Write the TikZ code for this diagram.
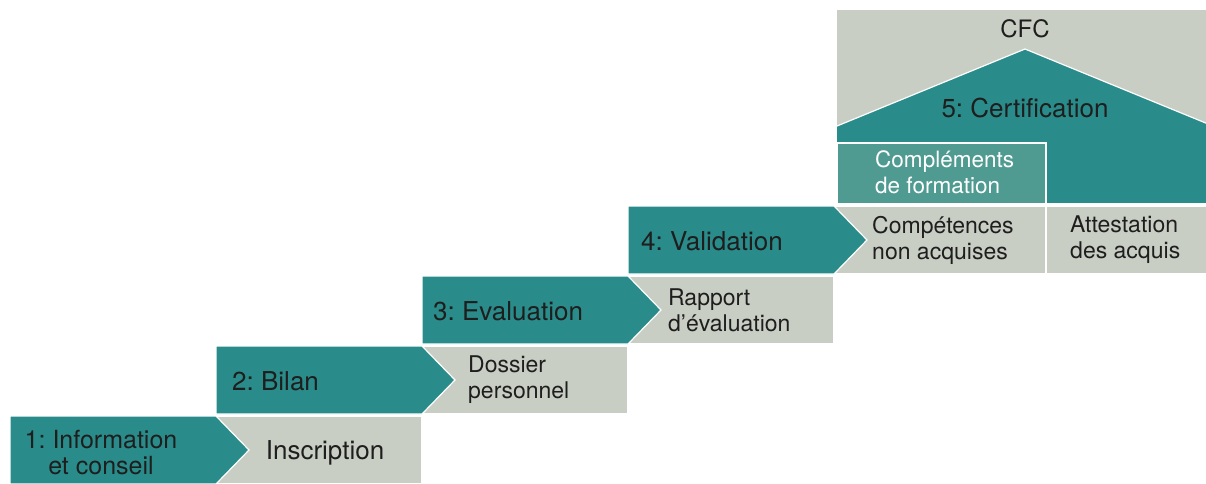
\documentclass[tikz,border=0pt]{standalone}
\usepackage{fontspec}
\setmainfont{TeX Gyre Heros}
\frenchspacing
\definecolor{tealA}{RGB}{42,140,138}
\definecolor{grayB}{RGB}{200,206,196}
\definecolor{tealC}{RGB}{80,155,145}
\definecolor{ink}{RGB}{30,30,30}
\tikzset{
  stepbox/.style={fill=tealA, draw=white, line width=1.2pt, line join=miter},
  outbox/.style={fill=grayB, draw=white, line width=1.2pt},
  bigtxt/.style={font=\fontsize{26}{26}\selectfont, text=ink, inner sep=0pt, align=center},
  smalltxt/.style={font=\fontsize{23}{26}\selectfont, text=ink, inner sep=0pt, align=left},
}
\begin{document}
\begin{tikzpicture}[x=1pt,y=-1pt]
\useasboundingbox[fill=white] (0,0) rectangle (1206,483);
% result boxes
\path[outbox] (216,416) rectangle (422,484);
\path[outbox] (422,346) rectangle (628,414);
\path[outbox] (628,276) rectangle (834,344);
\path[outbox] (834,206) rectangle (1046,274);
\path[outbox] (1046,206) rectangle (1210,274);
% step 5 area
\path[fill=grayB] (837,10) rectangle (1210,204);
\path[fill=tealA] (837,204) -- (837,126) -- (1025,49) -- (1213,126) -- (1213,204) -- cycle;
\draw[white, line width=1.2pt] (837,126) -- (1025,49) -- (1213,126);
\draw[white, line width=1.2pt] (837,204) -- (1210,204);
\path[fill=tealC, draw=white, line width=1.5pt] (837,143) rectangle (1046,204);
% step arrows
\path[stepbox] (10,416) -- (216,416) -- (249,450) -- (216,484) -- (10,484) -- cycle;
\path[stepbox] (216,346) -- (422,346) -- (455,380) -- (422,414) -- (216,414) -- cycle;
\path[stepbox] (422,276) -- (628,276) -- (661,310) -- (628,344) -- (422,344) -- cycle;
\path[stepbox] (628,206) -- (834,206) -- (867,240) -- (834,274) -- (628,274) -- cycle;
% texts
\node[bigtxt, font=\fontsize{25}{26}\selectfont] (t1) at (101,453) {1: Information\\et conseil};
\node[bigtxt] (r1) at (325,453) {Inscription};
\node[bigtxt, anchor=west] (t2) at (232,381) {2: Bilan};
\node[smalltxt, anchor=west] (r2) at (468,380) {Dossier\\personnel};
\node[bigtxt, anchor=west] (t3) at (433,311) {3: Evaluation};
\node[smalltxt, anchor=west] (r3) at (668,310) {Rapport\\d’évaluation};
\node[bigtxt, anchor=west] (t4) at (641,241) {4: Validation};
\node[smalltxt, anchor=west] (r4) at (872,240) {Compétences\\non acquises};
\node[smalltxt, anchor=west] (r5) at (1070,240) {Attestation\\des acquis};
\node[smalltxt, anchor=west, text=white, font=\fontsize{22.5}{26}\selectfont] (c5) at (875,172) {Compléments\\de formation};
\node[bigtxt, font=\fontsize{24}{26}\selectfont] (cfc) at (1025,29) {CFC};
\node[bigtxt] (t5) at (1025,108) {5: Certification};
\end{tikzpicture}
\end{document}
